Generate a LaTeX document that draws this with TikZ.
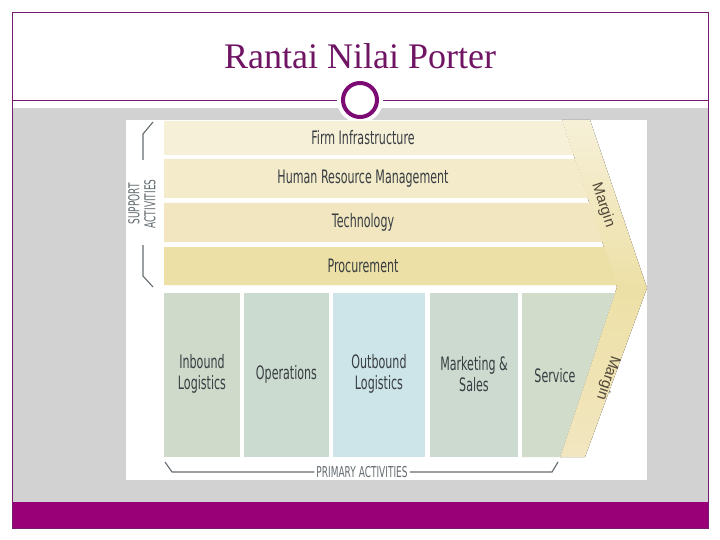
\documentclass[tikz,border=0pt]{standalone}
\usepackage{fontspec}
\setmainfont{Liberation Serif}
\newfontfamily\vcfont[FakeStretch=0.6]{DejaVu Sans}
\newfontfamily\marginfont{Liberation Sans}

\definecolor{slidegray}{RGB}{210,210,210}
\definecolor{bandpurple}{RGB}{153,0,119}
\definecolor{framepurple}{RGB}{122,26,110}
\definecolor{ringpurple}{RGB}{125,10,115}
\definecolor{titlepurple}{RGB}{112,20,100}
\definecolor{firmfill}{RGB}{246,240,216}
\definecolor{hrmfill}{RGB}{243,235,202}
\definecolor{techfill}{RGB}{241,230,192}
\definecolor{procfill}{RGB}{237,224,166}
\definecolor{inbfill}{RGB}{207,218,203}
\definecolor{opsfill}{RGB}{204,219,208}
\definecolor{outbfill}{RGB}{205,229,232}
\definecolor{mktfill}{RGB}{204,218,208}
\definecolor{servfill}{RGB}{209,220,203}
\definecolor{vctext}{RGB}{56,62,66}
\definecolor{brkgray}{RGB}{100,108,112}
\definecolor{margintext}{RGB}{80,70,56}

\tikzset{
  vclabel/.style={font=\vcfont\fontsize{18.5}{21}\selectfont, text=vctext, align=center},
  smalllabel/.style={font=\vcfont\fontsize{15}{16}\selectfont, text=brkgray, align=center, inner sep=2pt},
  marginlabel/.style={font=\marginfont\fontsize{15}{17}\selectfont, text=margintext},
  brk/.style={draw=brkgray, line width=1.1pt},
}

\begin{document}
\begin{tikzpicture}[x=1pt,y=-1pt]
  \useasboundingbox (0,0) rectangle (720,540);
  % slide
  \fill[white] (0,0) rectangle (720,540);
  \fill[slidegray] (12,108) rectangle (708,502);
  \fill[bandpurple] (12,502) rectangle (708,528);
  \draw[framepurple, line width=0.8pt] (12,12) rectangle (708,528);
  \draw[framepurple, line width=0.8pt] (12,100) -- (708,100);
  \fill[white] (360,100) circle (23);
  \draw[ringpurple, line width=4pt, fill=white] (360,100) circle (17);
  \node[font=\fontsize{36}{40}\selectfont, text=titlepurple] (title) at (360,56) {Rantai Nilai Porter};

  % value chain picture
  \fill[white] (126,120) rectangle (647,480);
  \fill[top color=firmfill, bottom color=techfill, middle color=procfill]
    (562,120) -- (590,120) -- (647,288) -- (585,457) -- (560,457) -- (617,287) -- cycle;

  % support activities
  \foreach \ya/\yb/\col/\txt/\nm in {121/155/firmfill/{Firm Infrastructure}/firm,
      159/198/hrmfill/{Human Resource Management}/hrm,
      203/242/techfill/{Technology}/tech,
      247/285/procfill/{Procurement}/proc} {
    \fill[\col] (164,\ya) -- ({562+(\ya-120)/3},\ya) -- ({562+(\yb-120)/3},\yb) -- (164,\yb) -- cycle;
    \node[vclabel] (\nm) at (363,{(\ya+\yb)/2}) {\txt};
  }

  % primary activities
  \foreach \xa/\xb/\col/\txt/\nm in {164/240/inbfill/{Inbound\\Logistics}/inb,
      244/329/opsfill/{Operations}/ops,
      333/425/outbfill/{Outbound\\Logistics}/outb,
      430/518/mktfill/{Marketing \&\\Sales}/mkt} {
    \fill[\col] (\xa,293) rectangle (\xb,457);
    \node[vclabel] (\nm) at ({(\xa+\xb)/2},374) {\txt};
  }
  \fill[servfill] (522,293) -- (615,293) -- (560,457) -- (522,457) -- cycle;
  \node[vclabel] (serv) at (555,376) {Service};

  % margin
  \node[marginlabel, rotate=-71.6] (mtop) at (603,205) {Margin};
  \node[marginlabel, rotate=-108.5] (mbot) at (608,378) {Margin};

  % brackets
  \node[smalllabel, rotate=90] (support) at (142,204) {SUPPORT\\ACTIVITIES};
  \draw[brk] (153,122) -- (143,134) -- (143,160);
  \draw[brk] (143,245) -- (143,276) -- (153,287);
  \node[smalllabel] (primary) at (362,472) {PRIMARY ACTIVITIES};
  \draw[brk] (primary.west) -- (172,472) -- (165,462);
  \draw[brk] (primary.east) -- (552,472) -- (558,462);
\end{tikzpicture}
\end{document}
